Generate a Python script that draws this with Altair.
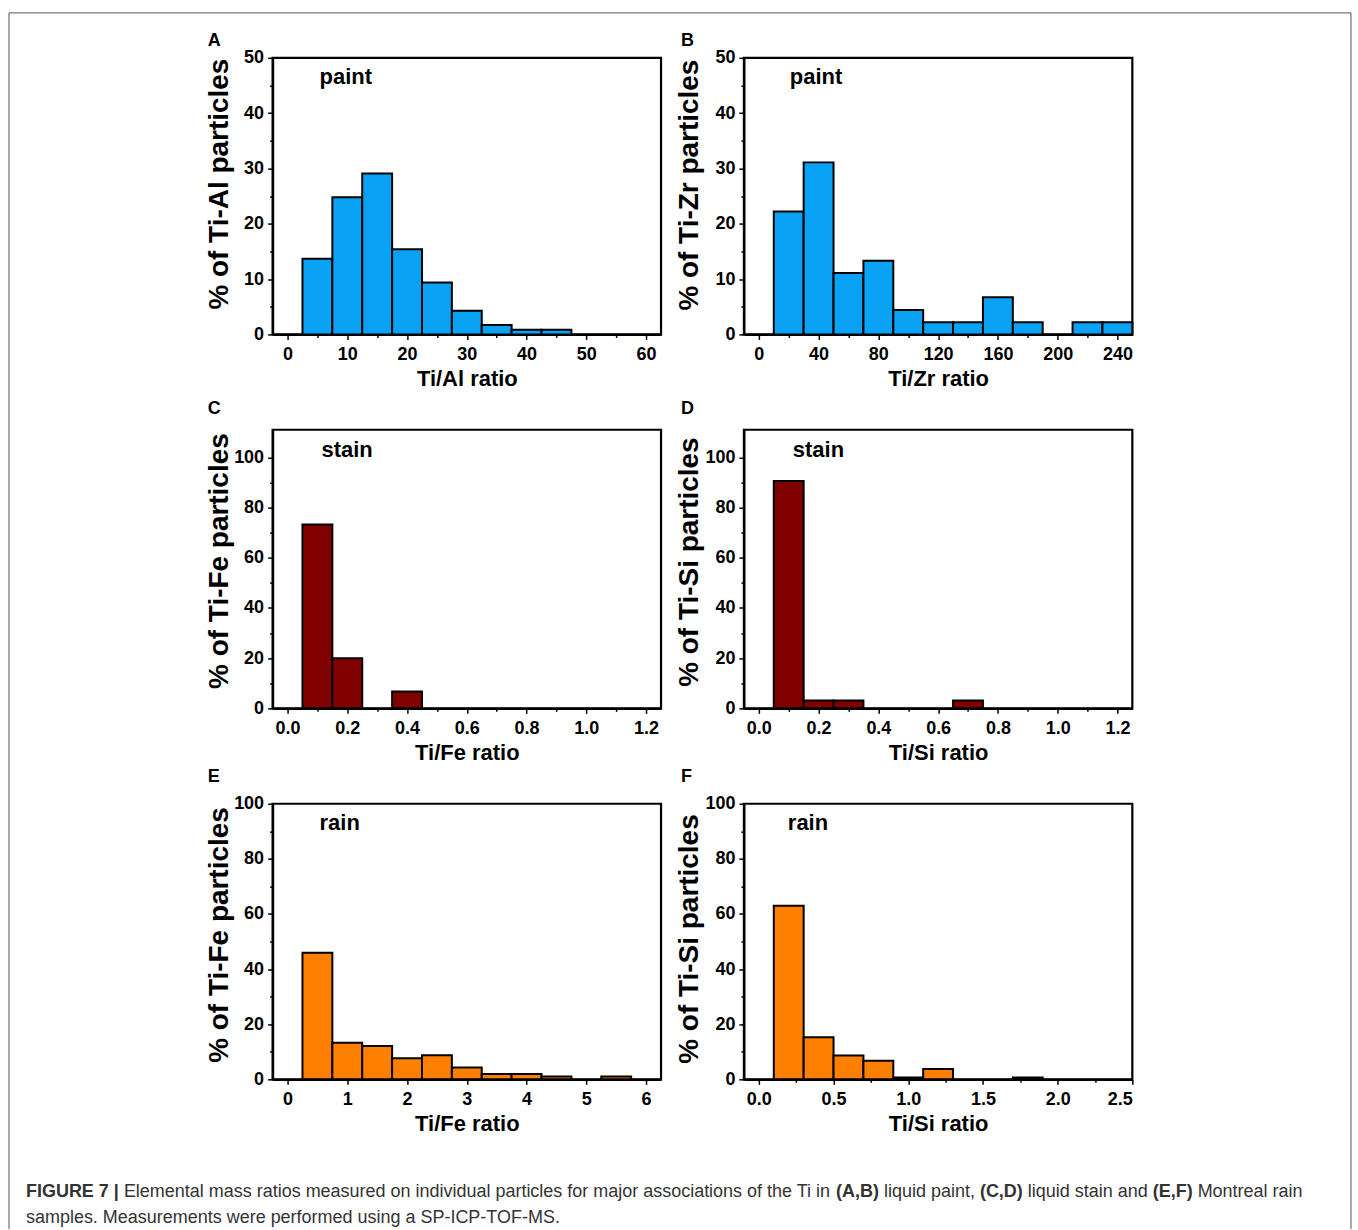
import altair as alt
import pandas as pd

# ---------------- data ----------------
a_edges = [2.5, 7.5, 12.5, 17.5, 22.5, 27.5, 32.5, 37.5, 42.5, 47.5]
a_pct = [13.7, 24.8, 29.1, 15.4, 9.4, 4.3, 1.7, 0.85, 0.85]

b_edges = [10, 30, 50, 70, 90, 110, 130, 150, 170, 190, 210, 230, 250]
b_pct = [22.2, 31.1, 11.1, 13.3, 4.4, 2.2, 2.2, 6.7, 2.2, 0.0, 2.2, 2.2]

c_edges = [0.05, 0.15, 0.25, 0.35, 0.45]
c_pct = [73.3, 20.0, 0.0, 6.7]

d_edges = [0.05, 0.15, 0.25, 0.35, 0.45, 0.55, 0.65, 0.75]
d_pct = [90.6, 3.1, 3.1, 0.0, 0.0, 0.0, 3.1]

e_edges = [0.25, 0.75, 1.25, 1.75, 2.25, 2.75, 3.25, 3.75, 4.25, 4.75, 5.25, 5.75]
e_pct = [45.9, 13.3, 12.1, 7.6, 8.7, 4.3, 1.9, 1.9, 1.0, 0.0, 1.0]

f_edges = [0.1, 0.3, 0.5, 0.7, 0.9, 1.1, 1.3, 1.5, 1.7, 1.9]
f_pct = [63.0, 15.3, 8.6, 6.7, 0.7, 3.7, 0.0, 0.0, 0.7]

# tick values (major + minor)
a_xticks = [0, 5, 10, 15, 20, 25, 30, 35, 40, 45, 50, 55, 60]
b_xticks = [0, 20, 40, 60, 80, 100, 120, 140, 160, 180, 200, 220, 240]
cd_xticks = [0.0, 0.1, 0.2, 0.3, 0.4, 0.5, 0.6, 0.7, 0.8, 0.9, 1.0, 1.1, 1.2]
e_xticks = [0, 0.5, 1, 1.5, 2, 2.5, 3, 3.5, 4, 4.5, 5, 5.5, 6]
f_xticks = [0.0, 0.25, 0.5, 0.75, 1.0, 1.25, 1.5, 1.75, 2.0, 2.25, 2.5]
ab_yticks = [0, 5, 10, 15, 20, 25, 30, 35, 40, 45, 50]
cf_yticks = [0, 10, 20, 30, 40, 50, 60, 70, 80, 90, 100]

caption_line1 = [
    ("FIGURE 7 |", "bold"),
    ("Elemental mass ratios measured on individual particles for major associations of the Ti in", "normal"),
    ("(A,B)", "bold"),
    ("liquid paint,", "normal"),
    ("(C,D)", "bold"),
    ("liquid stain and", "normal"),
    ("(E,F)", "bold"),
    ("Montreal rain", "normal"),
]
caption_line2 = "samples. Measurements were performed using a SP-ICP-TOF-MS."

BLUE = "#0AA2F5"
DARKRED = "#800000"
ORANGE = "#FF8000"
FONT = "Liberation Sans"
W = 389
CAP_SIZE = 18

# Arial / Liberation Sans advance widths (per 1000 em), used only to lay the
# mixed-weight caption segments side by side.
_REG = {" ": 278, "(": 333, ")": 333, ",": 278, ".": 278, "-": 333, "|": 260,
        "a": 556, "b": 556, "c": 500, "d": 556, "e": 556, "f": 278, "g": 556, "h": 556,
        "i": 222, "j": 222, "k": 500, "l": 222, "m": 833, "n": 556, "o": 556, "p": 556,
        "q": 556, "r": 333, "s": 500, "t": 278, "u": 556, "v": 500, "w": 722, "x": 500,
        "y": 500, "z": 500, "M": 833, "T": 611, "E": 667}
_BOLD = {" ": 278, "(": 333, ")": 333, ",": 278, "|": 280, "7": 556, "A": 722, "B": 722,
         "C": 722, "D": 722, "E": 667, "F": 611, "G": 778, "I": 278, "R": 722, "U": 722}


def text_width(s, weight):
    table = _BOLD if weight == "bold" else _REG
    return sum(table.get(ch, 556) for ch in s) * CAP_SIZE / 1000.0


def major(step):
    return f"abs(datum.value/{step} - round(datum.value/{step})) < 0.001"


def one(v):
    return alt.Data(values=[{"t": v}])


def panel(letter, letter_xy, note, note_xy, edges, pct, color, xdom, xticks, xstep,
          xfmt, xtitle, ydom, yticks, ystep, ytitle, ytitle_y, h, ytitle_x=-45,
          extra=None):
    df = pd.DataFrame({"lo": edges[:-1], "hi": edges[1:], "pct": pct})
    xaxis = alt.Axis(
        values=xticks, format=xfmt,
        labelExpr=f"{major(xstep)} ? datum.label : ''",
        tickSize={"condition": {"test": major(xstep), "value": 5}, "value": 3},
        title=xtitle, titleFontSize=22, titleY=51, titleBaseline="alphabetic",
        labelBaseline="alphabetic", labelPadding=20,
    )
    yaxis = alt.Axis(
        values=yticks, format="d",
        labelExpr=f"{major(ystep)} ? datum.label : ''",
        tickSize={"condition": {"test": major(ystep), "value": 5}, "value": 3},
        title=ytitle, titleFontSize=28, titleX=ytitle_x, titleY=ytitle_y,
        titleBaseline="alphabetic", titleAngle=270, labelPadding=4,
    )
    bars = alt.Chart(df).transform_filter("datum.pct > 0").mark_bar(
        color=color, stroke="black", strokeWidth=2
    ).encode(
        x=alt.X("lo:Q", scale=alt.Scale(domain=xdom, nice=False, zero=False), axis=xaxis),
        x2="hi:Q",
        y=alt.Y("pct:Q", scale=alt.Scale(domain=ydom, nice=False), axis=yaxis),
        y2=alt.datum(0),
    )
    note_t = alt.Chart(one(note)).mark_text(
        font=FONT, fontSize=22, fontWeight="bold", align="left", baseline="alphabetic", color="black"
    ).encode(text="t:N", x=alt.value(note_xy[0]), y=alt.value(note_xy[1]))
    letter_t = alt.Chart(one(letter)).mark_text(
        font=FONT, fontSize=18, fontWeight="bold", align="left", baseline="alphabetic", color="black"
    ).encode(text="t:N", x=alt.value(letter_xy[0]), y=alt.value(letter_xy[1]))
    layers = [bars, note_t, letter_t] + (extra or [])
    return alt.layer(*layers).properties(width=W, height=h)


# caption and figure frame (drawn relative to panel E's plot origin: page x 272, y 804)
CAP_COLOR = "#333333"
extra = []
px = 25 - 272
for text, weight in caption_line1:
    extra.append(
        alt.Chart(one(text)).mark_text(
            font=FONT, fontSize=CAP_SIZE, fontWeight=weight, align="left",
            baseline="alphabetic", color=CAP_COLOR
        ).encode(text="t:N", x=alt.value(px), y=alt.value(394))
    )
    px += text_width(text + " ", weight)
extra.append(
    alt.Chart(one(caption_line2)).mark_text(
        font=FONT, fontSize=CAP_SIZE, align="left", baseline="alphabetic", color=CAP_COLOR
    ).encode(text="t:N", x=alt.value(25 - 272), y=alt.value(420))
)
frame_color = "#555555"
extra.append(alt.Chart(one("")).mark_rule(color=frame_color, strokeWidth=1).encode(
    x=alt.value(-264), y=alt.value(-792), y2=alt.value(426)))
extra.append(alt.Chart(one("")).mark_rule(color=frame_color, strokeWidth=1).encode(
    x=alt.value(-264), x2=alt.value(1080), y=alt.value(-792)))
extra.append(alt.Chart(one("")).mark_rule(color=frame_color, strokeWidth=1).encode(
    x=alt.value(1080), y=alt.value(-792), y2=alt.value(426)))

pA = panel("A", (-65, -12), "paint", (47, 26), a_edges, a_pct, BLUE, [-2.5, 62.5], a_xticks, 10, "d",
           "Ti/Al ratio", [0, 50], ab_yticks, 10, "% of Ti-Al particles", 126, 277)
pB = panel("B", (-63, -12), "paint", (46, 26), b_edges, b_pct, BLUE, [-10, 250], b_xticks, 40, "d",
           "Ti/Zr ratio", [0, 50], ab_yticks, 10, "% of Ti-Zr particles", 127, 277, ytitle_x=-46)
pC = panel("C", (-65, -16), "stain", (49, 27), c_edges, c_pct, DARKRED, [-0.05, 1.25], cd_xticks, 0.2, ".1f",
           "Ti/Fe ratio", [0, 111], cf_yticks, 20, "% of Ti-Fe particles", 131, 279)
pD = panel("D", (-63, -16), "stain", (49, 27), d_edges, d_pct, DARKRED, [-0.05, 1.25], cd_xticks, 0.2, ".1f",
           "Ti/Si ratio", [0, 111], cf_yticks, 20, "% of Ti-Si particles", 132, 279, ytitle_x=-46)
pE = panel("E", (-65, -22), "rain", (47, 26), e_edges, e_pct, ORANGE, [-0.25, 6.25], e_xticks, 1, "d",
           "Ti/Fe ratio", [0, 100], cf_yticks, 20, "% of Ti-Fe particles", 131, 276, extra=extra)
pF = panel("F", (-63, -22), "rain", (44, 26), f_edges, f_pct, ORANGE, [-0.1, 2.5], f_xticks, 0.5, ".1f",
           "Ti/Si ratio", [0, 100], cf_yticks, 20, "% of Ti-Si particles", 135, 276, ytitle_x=-46)

chart = alt.ConcatChart(
    concat=[pA, pB, pC, pD, pE, pF],
    columns=2,
    spacing={"row": 95.5, "column": 83},
    bounds="flush",
    padding={"left": 7, "top": 10, "right": 5, "bottom": 0},
    background="white",
).configure(font=FONT).configure_view(
    stroke="black", strokeWidth=2.2
).configure_axis(
    grid=False, domainColor="black", domainWidth=2.2, tickColor="black", tickWidth=1.5,
    labelColor="black", titleColor="black", labelFont=FONT, titleFont=FONT,
    labelFontWeight="bold", titleFontWeight="bold", labelFontSize=18,
)

chart.save("out.html", embed_options={"renderer": "svg", "actions": False})
